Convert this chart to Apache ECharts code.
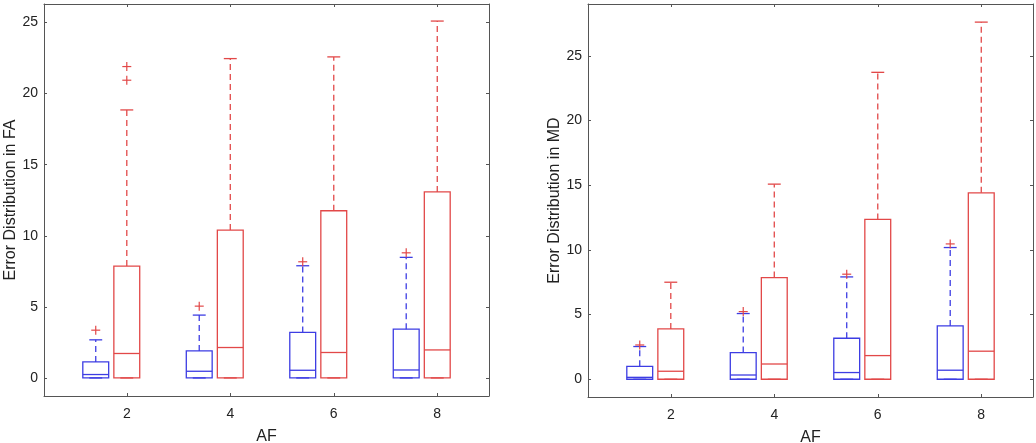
<!DOCTYPE html>
<html>
<head>
<meta charset="utf-8">
<script src="https://cdn.jsdelivr.net/npm/echarts@6/dist/echarts.min.js"></script>
<style>
  html, body { margin: 0; padding: 0; background: #fff; }
  #main { width: 1036px; height: 443px; }
</style>
</head>
<body>
<div id="main"></div>
<script>
// AF values (x ticks) and y tick labels
const afValues = [2, 4, 6, 8]
const yTicks = [0, 5, 10, 15, 20, 25]

// box stats per AF: [min, q1, median, q3, max]
const faBlue = [[0, 0, 0.24, 1.13, 2.68], [0, 0, 0.47, 1.9, 4.42], [0, 0, 0.54, 3.2, 7.89], [0, 0, 0.56, 3.43, 8.48]]
const faRed = [[0, 0, 1.72, 7.87, 18.85], [0, 0, 2.14, 10.4, 22.46], [0, 0, 1.79, 11.76, 22.58], [0, 0, 1.97, 13.08, 25.1]]
const mdBlue = [[0, 0, 0.15, 1.0, 2.53], [0, 0, 0.33, 2.06, 5.08], [0, 0, 0.52, 3.17, 7.91], [0, 0, 0.7, 4.12, 10.18]]
const mdRed = [[0, 0, 0.62, 3.89, 7.5], [0, 0, 1.18, 7.86, 15.08], [0, 0, 1.83, 12.35, 23.72], [0, 0, 2.17, 14.41, 27.6]]

// outliers: [AF, value]
const faBlueOut = [[2, 3.36], [4, 5.05], [6, 8.17], [8, 8.8]]
const faRedOut = [[2, 20.94], [2, 21.9]]
const mdBlueOut = [[2, 2.65], [4, 5.23], [6, 8.12], [8, 10.46]]
const mdRedOut = []

const BLUE = '#3d3de3'
const RED = '#e24848'
const blueShift = -0.6
const boxW = 0.5
const font = "'Liberation Sans', Arial, sans-serif"

function boxRender(color) {
  return function (params, api) {
    const x = api.value(0)
    const lo = api.value(1), q1 = api.value(2), med = api.value(3), q3 = api.value(4), hi = api.value(5)
    const px = v => api.coord([v, 0])[0]
    const py = v => api.coord([x, v])[1]
    const l = px(x - boxW / 2), r = px(x + boxW / 2)
    const cl = px(x - boxW / 4), cr = px(x + boxW / 4)
    const cx = px(x)
    const solid = { stroke: color, lineWidth: 1.3, fill: null }
    const dashed = { stroke: color, lineWidth: 1.3, lineDash: [6, 4] }
    return {
      type: 'group',
      children: [
        { type: 'line', shape: { x1: cx, y1: py(q3), x2: cx, y2: py(hi) }, style: dashed },
        { type: 'line', shape: { x1: cx, y1: py(q1), x2: cx, y2: py(lo) }, style: dashed },
        { type: 'line', shape: { x1: cl, y1: py(hi), x2: cr, y2: py(hi) }, style: solid },
        { type: 'line', shape: { x1: cl, y1: py(lo), x2: cr, y2: py(lo) }, style: solid },
        { type: 'rect', shape: { x: l, y: py(q3), width: r - l, height: py(q1) - py(q3) }, style: solid },
        { type: 'line', shape: { x1: l, y1: py(med), x2: r, y2: py(med) }, style: solid }
      ]
    }
  }
}

function plusRender(params, api) {
  const p = api.coord([api.value(0), api.value(1)])
  const s = 4.5
  const st = { stroke: RED, lineWidth: 1.2 }
  return {
    type: 'group',
    children: [
      { type: 'line', shape: { x1: p[0] - s, y1: p[1], x2: p[0] + s, y2: p[1] }, style: st },
      { type: 'line', shape: { x1: p[0], y1: p[1] - s, x2: p[0], y2: p[1] + s }, style: st }
    ]
  }
}

function boxData(stats, shift) {
  return stats.map((s, i) => [afValues[i] + shift].concat(s))
}
function outData(list, shift) {
  return list.map(o => [o[0] + shift, o[1]])
}

const axisLineStyle = { color: '#555', width: 1 }

function makeX(gridIndex, top) {
  return {
    type: 'value', gridIndex: gridIndex, min: 0.4, max: 9,
    position: top ? 'top' : 'bottom',
    name: top ? '' : 'AF', nameLocation: 'middle', nameGap: 33,
    nameTextStyle: { fontFamily: font, fontSize: 16, color: '#222' },
    axisLine: { show: true, onZero: false, lineStyle: axisLineStyle },
    axisTick: { show: true, inside: true, length: 3, lineStyle: axisLineStyle, customValues: afValues },
    axisLabel: { show: !top, margin: 11, fontFamily: font, fontSize: 14, color: '#222', customValues: afValues },
    splitLine: { show: false }
  }
}

function makeY(gridIndex, right, min, max, name) {
  return {
    type: 'value', gridIndex: gridIndex, min: min, max: max,
    position: right ? 'right' : 'left',
    name: right ? '' : name, nameLocation: 'middle', nameGap: 24,
    nameTextStyle: { fontFamily: font, fontSize: 16, color: '#222' },
    axisLine: { show: true, onZero: false, lineStyle: axisLineStyle },
    axisTick: { show: true, inside: true, length: 3, lineStyle: axisLineStyle, customValues: yTicks },
    axisLabel: { show: !right, margin: 6, fontFamily: font, fontSize: 14, color: '#222', customValues: yTicks },
    splitLine: { show: false }
  }
}

function boxSeries(stats, shift, color, axisIdx) {
  return {
    type: 'custom', xAxisIndex: axisIdx, yAxisIndex: axisIdx,
    renderItem: boxRender(color),
    encode: { x: 0, y: [1, 2, 3, 4, 5] },
    data: boxData(stats, shift), silent: true
  }
}
function outSeries(list, shift, axisIdx) {
  return {
    type: 'custom', xAxisIndex: axisIdx, yAxisIndex: axisIdx,
    renderItem: plusRender,
    encode: { x: 0, y: 1 },
    data: outData(list, shift), silent: true
  }
}

const chart = echarts.init(document.getElementById('main'))
chart.setOption({
  animation: false,
  grid: [
    { left: 44, right: 547, top: 4, bottom: 47, outerBoundsMode: 'none' },
    { left: 588, right: 3, top: 4, bottom: 46, outerBoundsMode: 'none' }
  ],
  xAxis: [makeX(0, false), makeX(1, false), makeX(0, true), makeX(1, true)],
  yAxis: [
    makeY(0, false, -1.27, 26.3, 'Error Distribution in FA'),
    makeY(1, false, -1.37, 29, 'Error Distribution in MD'),
    makeY(0, true, -1.27, 26.3),
    makeY(1, true, -1.37, 29)
  ],
  series: [
    boxSeries(faBlue, blueShift, BLUE, 0),
    boxSeries(faRed, 0, RED, 0),
    outSeries(faBlueOut, blueShift, 0),
    outSeries(faRedOut, 0, 0),
    boxSeries(mdBlue, blueShift, BLUE, 1),
    boxSeries(mdRed, 0, RED, 1),
    outSeries(mdBlueOut, blueShift, 1),
    outSeries(mdRedOut, 0, 1)
  ]
})
</script>
</body>
</html>
